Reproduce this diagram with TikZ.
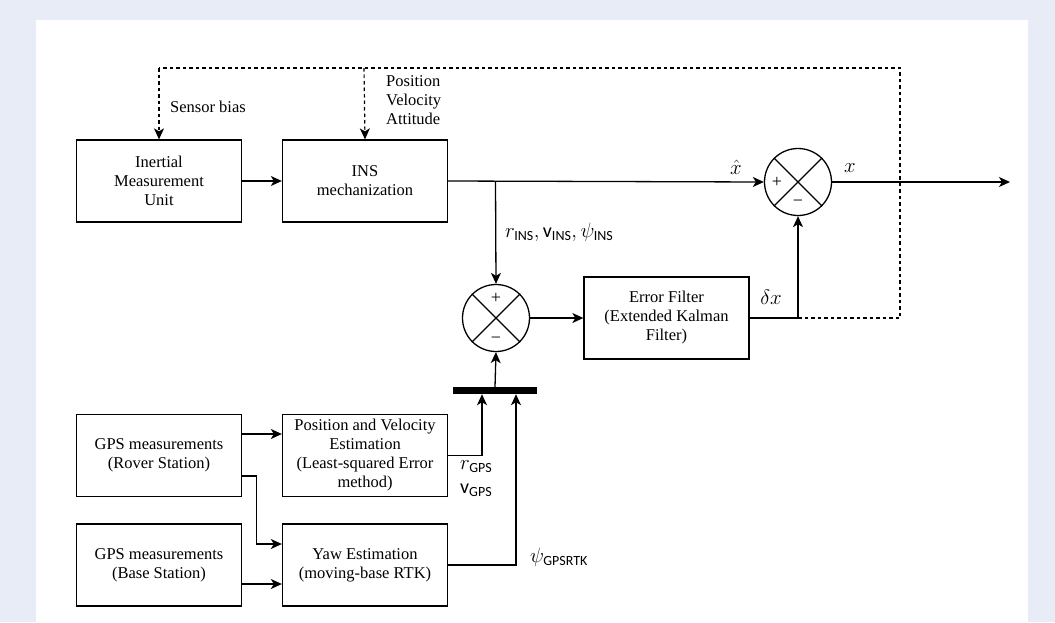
\documentclass[tikz,border=0pt]{standalone}
\usepackage{fontspec}
\usepackage{amsmath}
\setmainfont{Liberation Serif}
\setsansfont{Carlito}
\usetikzlibrary{arrows.meta,calc}
\definecolor{bgblue}{HTML}{E8ECF6}
\tikzset{
  blk/.style={draw, line width=1.3pt, minimum width=165pt, minimum height=82pt, align=center, inner sep=2pt, font=\fontsize{16.5}{19}\selectfont},
  arr/.style={-{Stealth[length=11pt,width=10pt,inset=3pt]}, line width=1.3pt},
  ln/.style={line width=1.2pt},
  dsh/.style={line width=1.2pt, dash pattern=on 3.5pt off 3pt},
  sumc/.style={draw, circle, line width=1.3pt, minimum size=67pt, inner sep=0pt},
  lbl/.style={font=\fontsize{16.5}{19}\selectfont, align=left, inner sep=0pt},
  mlbl/.style={font=\fontsize{20}{24}\selectfont, inner sep=0pt},
  sgn/.style={font=\fontsize{18}{20}\selectfont, inner sep=0pt}
}
\begin{document}
\begin{tikzpicture}[x=1pt,y=-1pt]
\useasboundingbox (0,0) rectangle (1055,622);
\fill[bgblue] (0,0) rectangle (1055,622);
\fill[white] (36,20) rectangle (1028,622);

% blocks
\node[blk] (imu) at (159,181) {Inertial\\Measurement\\Unit};
\node[blk] (ins) at (365,181) {INS\\mechanization};
\node[blk] (filter) at (666.5,318) {Error Filter\\(Extended Kalman\\Filter)};
\node[blk] (rover) at (159,455.5) {GPS measurements\\(Rover Station)};
\node[blk] (posvel) at (365,455.5) {Position and Velocity\\Estimation\\(Least-squared Error\\method)};
\node[blk] (base) at (159,565) {GPS measurements\\(Base Station)};
\node[blk] (yaw) at (365,565) {Yaw Estimation\\(moving-base RTK)};

% summing junctions
\node[sumc] (s1) at (798,182) {};
\node[sumc] (s2) at (496,318) {};
\foreach \s in {s1,s2}{
  \draw[ln] (\s.45) -- (\s.225);
  \draw[ln] (\s.135) -- (\s.315);
}
\node[sgn] (s1p) at (777,182) {+};
\node[sgn] (s1m) at (798,203) {\textminus};
\node[sgn] (s2p) at (496,298) {+};
\node[sgn] (s2m) at (496,340) {\textminus};

% bar
\node[fill=black, minimum width=84pt, minimum height=7pt, inner sep=0pt] (bar) at (495,390.5) {};

% coordinates
\coordinate (br) at (495.5,182);
\coordinate (out) at (1010,182);
\coordinate (fj) at (798,318);
\coordinate (d1) at (900,318);
\coordinate (d2) at (900,68);
\coordinate (d3) at (364,68);
\coordinate (d4) at (159,68);

% solid connectors
\draw[arr] (imu) -- (ins);
\draw[arr] (ins.east) -- (s1.west);
\draw[arr] (br) -- (s2.north);
\draw[arr] (s1.east) -- (out);
\draw[arr] (s2.east) -- (filter.west);
\draw[arr] (filter.east) -- (fj) -- (s1.south);
\draw[arr] (bar.north) -- (s2.south);
\draw[arr] ([yshift=21.5pt]rover.east) -- ([yshift=21.5pt]posvel.west);
\draw[arr] ([yshift=-20.5pt]rover.east) -- ++(14,0) |- ([yshift=21pt]yaw.west);
\draw[arr] ([yshift=-19pt]base.east) -- ([yshift=-19pt]yaw.west);
\draw[arr] (posvel.east) -| ([xshift=-13pt]bar.south);
\draw[arr] (yaw.east) -| ([xshift=21pt]bar.south);

% dashed feedback
\draw[dsh] (fj) -- (d1) -- (d2) -- (d4);
\draw[dsh, -{Stealth[length=11pt,width=10pt,inset=3pt]}] (d4) -- (imu.north);
\draw[dsh, -{Stealth[length=11pt,width=10pt,inset=3pt]}] (d3) -- (ins.north);

% labels
\node[lbl, anchor=west] (lsb) at (170,107) {Sensor bias};
\node[lbl, anchor=west] (lpva) at (386,100) {Position\\Velocity\\Attitude};
\node[mlbl] (lxh) at (736,167) {$\hat{x}$};
\node[mlbl] (lx) at (850,168) {$x$};
\node[mlbl, anchor=west] (lins) at (505,232) {$r_{\textsf{INS}}, \textsf{v}_{\textsf{INS}}, \psi_{\textsf{INS}}$};
\node[mlbl] (ldx) at (771,297) {$\delta x$};
\node[mlbl, anchor=west] (lrg) at (460,467) {$r_{\textsf{GPS}}$};
\node[mlbl, anchor=west] (lvg) at (460,490) {$\textsf{v}_{\textsf{GPS}}$};
\node[mlbl, anchor=west] (lpsi) at (530,557) {$\psi_{\textsf{GPSRTK}}$};
\end{tikzpicture}
\end{document}
